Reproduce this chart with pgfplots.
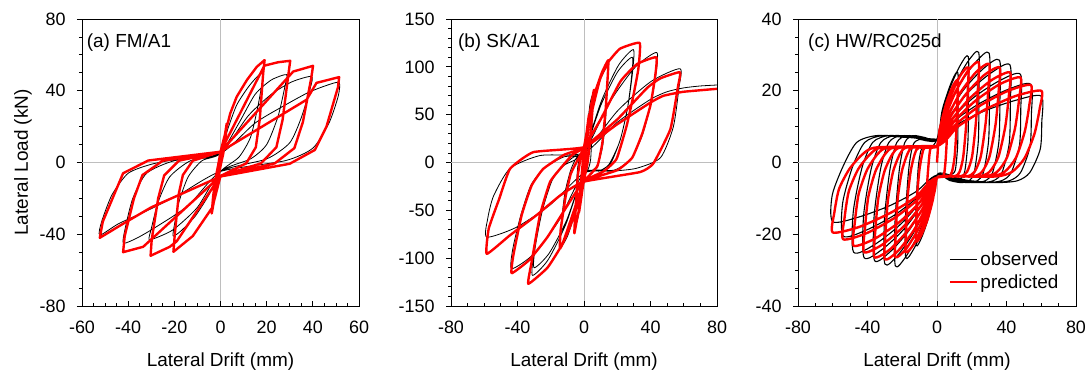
\documentclass[border=0pt]{standalone}
\usepackage{fontspec}
\setmainfont{Liberation Sans}
\usepackage{pgfplots}
\pgfplotsset{compat=1.18}
\definecolor{zeroline}{RGB}{190,190,190}
\definecolor{predred}{RGB}{255,0,0}
\pgfplotsset{
  obs/.style={black, line width=0.8bp, line join=round},
  pred/.style={predred, line width=2.4bp, line join=round},
  hyst/.style={
    scale only axis, height=287bp, anchor=south west,
    axis line style={line width=0.8bp},
    every tick/.style={black, line width=0.8bp},
    major tick length=5bp, minor tick length=3bp,
    xtick pos=left, ytick pos=left,
    xtick align=inside, ytick align=outside,
    tick label style={font=\fontsize{18}{20}\selectfont},
    /pgf/number format/assume math mode=true,
    xticklabel shift=11bp, yticklabel shift=8bp,
    xlabel={Lateral Drift (mm)},
    every axis x label/.style={at={(axis description cs:0.5,-0.195)}, anchor=center, font=\fontsize{19}{22}\selectfont},
    extra x ticks={0}, extra y ticks={0}, extra x tick labels={}, extra y tick labels={},
    extra tick style={grid=major, major grid style={zeroline, line width=0.9bp}},
  },
}
\begin{document}
\begin{tikzpicture}
\path[use as bounding box] (0,0) rectangle (1088bp,374bp);
% ---------------- (a)
\begin{axis}[hyst, at={(82bp,68bp)}, width=277bp,
  xmin=-60, xmax=60, ymin=-80, ymax=80,
  xtick={-60,-40,...,60}, minor x tick num=3,
  ytick={-80,-40,0,40,80}, minor y tick num=3,
  ylabel={Lateral Load (kN)},
  every axis y label/.style={at={(axis description cs:-0.213,0.5)}, rotate=90, anchor=center, font=\fontsize{19}{22}\selectfont}]
\addplot[obs, smooth, tension=0.4] coordinates {
(0,0) (1,8) (2.5,18) (2,10) (0.5,2) (-1,-8) (-3.5,-22) (-2.8,-14) (-1,-3) (0,4)
(3,18) (7,32) (12,42) (16,48) (18.5,50)
(18,44) (16,30) (13,14) (8,3) (0,-5)
(-5,-18) (-11,-30) (-17,-38) (-20.5,-41)
(-20,-35) (-18,-22) (-14,-8) (-8,1) (0,5)
(8,22) (15,38) (22,46) (28.6,49)
(28,43) (25,26) (20,10) (13,2) (0,-5)
(-10,-25) (-20,-37) (-26,-41) (-30.9,-43)
(-30,-37) (-27,-22) (-22,-8) (-13,1) (0,5)
(12,26) (22,38) (31,45) (39.4,48)
(39,42) (35,25) (30,11) (20,2) (0,-5)
(-14,-24) (-28,-36) (-36,-42) (-42,-45)
(-41.5,-38) (-38,-20) (-32,-6) (-20,1) (0,5)
(15,22) (28,32) (38,39) (46,43) (51.4,44.6)
(51,37) (47,22) (40,8) (28,1) (0,-5)
(-18,-18) (-32,-27) (-44,-34) (-52.3,-40.5)
(-51.5,-33) (-47,-18) (-40,-6) (-30,-1) (-18,2) (0,5)
};
\addplot[pred] coordinates {
(0,0) (1.2,10) (2.7,21.7) (2.2,14) (1.2,5) (0,-2) (-1.5,-12) (-3.8,-28.4) (-3.2,-19) (-2,-8) (-0.8,0)
(0,6) (2,16) (4.2,27.3) (7,36.6) (11.4,45.9) (15.7,53.3) (19.1,57.1)
(18.5,50) (17,24) (15.3,8.5) (11.1,-0.5) (0,-7.5)
(-3.5,-25) (-12,-41) (-20.4,-49.8)
(-19.8,-40) (-18,-17) (-16.3,-7) (-12,1) (0,6)
(19,54) (25,55.9) (30.2,56.7)
(29.5,50) (26.9,23.8) (24.2,8.5) (17.5,-0.5) (0,-7.5)
(-19,-44) (-22,-47) (-30.3,-52)
(-29.8,-43) (-27,-20) (-24.4,-7.2) (-18,1) (0,6)
(31.5,50.7) (40.1,53.9)
(39.3,47) (35.7,22.6) (32,8) (23.5,-0.5) (0,-7.5)
(-33.5,-47) (-42.2,-50)
(-41.5,-41) (-37.5,-20) (-33.8,-7) (-25,1) (0,6)
(37.3,35) (41.6,44.4) (51.4,47.6)
(50.9,42) (45.9,20) (40.9,7) (30,-0.7) (0,-7.8)
(-30,-25) (-42,-34) (-52.3,-42)
(-51,-33) (-42.2,-6) (-31.3,1.1) (0,6)
};
\node[anchor=west, inner sep=0pt, font=\fontsize{19}{22}\selectfont] at (rel axis cs:0.017,0.918) {(a) FM/A1};
\end{axis}
% ---------------- (b)
\begin{axis}[hyst, at={(451bp,68bp)}, width=266bp,
  xmin=-80, xmax=80, ymin=-150, ymax=150,
  xtick={-80,-40,0,40,80}, minor x tick num=3,
  ytick={-150,-100,...,150}, minor y tick num=4]
\addplot[obs, smooth, tension=0.4] coordinates {
(0,0) (2,35) (3.5,60) (5,70) (4.95,56) (4.65,26.6) (4,3.5) (2.75,-6) (1.5,-9) (0,-11) (-1.75,-38) (-3.5,-56.9) (-5,-65) (-4.95,-48.8) (-4.65,-29.3) (-3.8,-5.2) (-2.25,7.3) (0,10)
(4.9,55) (9.8,86.5) (14,100) (13.9,80) (13,45) (11,15) (8,-3) (4.2,-9) (0,-11) (-4.9,-49.5) (-9.8,-76.5) (-14,-88) (-13.8,-66) (-11.5,-32) (-8,-8) (-4.5,5) (0,10)
(10.4,64) (20.8,101.8) (29.7,118) (29.2,94.4) (26.5,60) (22,25) (16,-1) (8.9,-9) (0,-11) (-10.9,-64.5) (-21.7,-102) (-31,-118) (-30.2,-95) (-26,-55) (-20,-20) (-13,-4) (-6,6) (0,10)
(10.2,60) (20.3,95) (29,110) (28.5,88) (26,55) (21.5,22) (15,-2) (8.7,-9) (0,-11) (-10.5,-60.5) (-21,-95) (-30,-110) (-29.3,-88) (-25,-50) (-19,-18) (-12,-3) (0,10)
(15.3,62.5) (30.6,99.3) (43.7,115) (43.2,92) (40,60) (35,28) (28,3) (18,-8) (0,-11) (-15.2,-61) (-30.5,-96) (-43.5,-111) (-42.8,-90) (-38,-55) (-32,-24) (-24,-6) (-12,6) (0,10)
(20.2,54) (40.4,84.8) (57.7,98) (57.1,78) (53.7,37) (46,5) (31.7,-6) (17.3,-9) (0,-11) (-20.5,-44.5) (-41,-68) (-58.5,-78) (-57.9,-58.5) (-54.4,-35) (-44.5,-6.2) (-26.3,7.3) (0,10)
(20,42) (40,66) (50,74) (60,78) (70,80) (80,81)
};
\addplot[pred, smooth, tension=0.25] coordinates {
(0,0) (1.5,30) (3,50) (2.5,35) (1,5) (0,-15) (-1.5,-35) (-3,-52) (-2.5,-35) (-1,-5) (0,12)
(2.5,40) (4.5,62) (6,76) (5.3,60) (3.5,20) (2,-2) (0,-18) (-2.5,-45) (-4.5,-62) (-5.8,-74) (-5.4,-58) (-3.8,-15) (-2,5) (0,16)
(3,45) (7,75) (11,95) (14.6,107) (14.3,91) (13,55) (11,20) (8,-4) (0,-20)
(-4,-45) (-9,-70) (-14.4,-90) (-14,-70) (-11,-35) (-8,-12) (-4,2) (0,16)
(4.6,52) (9.6,87) (14.6,105) (21.7,119) (33.5,125) (32.7,98) (29.7,70) (25.7,38.7) (19.6,3.8) (12,-9) (0,-20)
(-6,-50) (-13,-85) (-22,-110) (-33.5,-126.8) (-31.5,-104) (-26.5,-55) (-20.5,-20.6) (-14.4,-6.6) (-7,8) (0,16)
(10,45) (22,85) (32,103) (43.5,110) (42.8,90) (40,60) (35,30) (29,5) (20,-8) (0,-20)
(-10,-45) (-22,-78) (-33,-102) (-43.5,-115.7) (-42.5,-97) (-37.5,-55) (-31.5,-24) (-24.5,-6.6) (-12,8) (0,16)
(20,45) (38,78) (46,88) (57.7,94.4) (56.6,80) (52,35) (41.7,-1) (33.7,-10) (0,-20)
(-14,-34) (-28.5,-55) (-44.5,-76) (-58.5,-95.5) (-57.3,-69) (-51,-38) (-44.5,-6.6) (-30.5,10.8) (0,16)
(20,40) (40,62.7) (47.7,69.7) (59.7,73.9) (80,77)
};
\node[anchor=west, inner sep=0pt, font=\fontsize{19}{22}\selectfont] at (rel axis cs:0.026,0.918) {(b) SK/A1};
\end{axis}
% ---------------- (c)
\begin{axis}[hyst, at={(798bp,68bp)}, width=278bp,
  xmin=-80, xmax=80, ymin=-40, ymax=40,
  xtick={-80,-40,0,40,80}, minor x tick num=3,
  ytick={-40,-20,0,20,40}, minor y tick num=3,
  legend style={at={(rel axis cs:0.957,0.04)}, anchor=south east, draw=none, fill=none,
    font=\fontsize{19}{22}\selectfont, row sep=2.5bp, nodes={inner sep=2.5bp}},
  legend cell align=left,
  legend image code/.code={\draw[#1] (0bp,0bp) -- (27bp,0bp);}]
\addplot[obs, line width=1.1bp, smooth, tension=0.45] coordinates {
(0,0) (2.4,13) (5.4,18.5) (9,23.2) (12,25) (12.1,15) (11.9,5) (10.7,-1.7) (9.2,-3.1) (6.8,-3.4) (3.6,-3) (0,-3.5) (-2.4,-10.3) (-5.4,-16.2) (-9,-21.1) (-12,-23) (-12.1,-12.7) (-10.8,-1.4) (-9.2,3.4) (-7,4.5) (-3.6,4.2) (0,6.5)
(3.6,14.5) (8.1,21.5) (13.5,27.2) (18,29.5) (18.1,17.7) (17.8,5.9) (16,-2.4) (13.9,-4.3) (10.3,-4.8) (5.4,-4.3) (0,-3.5) (-3.6,-11.6) (-8.1,-18.5) (-13.5,-24.2) (-18,-26.5) (-18.1,-14.6) (-16.2,-1.6) (-13.9,4.8) (-10.4,6.4) (-5.4,6) (0,6.5)
(4.8,15) (10.8,22.2) (18,28.3) (24,30.7) (24.1,18.4) (23.8,6.1) (21.4,-2.8) (18.5,-5.1) (13.7,-5.6) (7.2,-5) (0,-3.5) (-4.8,-12.4) (-10.8,-20) (-18,-26.3) (-24,-28.8) (-24.1,-15.8) (-21.6,-1.7) (-18.5,5.6) (-13.9,7.5) (-7.2,7) (0,6.5)
(6,14.9) (13.5,22.1) (22.5,28.1) (30,30.5) (30.2,18.3) (29.7,6.1) (26.7,-2.8) (23.1,-5.1) (17.1,-5.6) (9,-5) (0,-3.5) (-6,-12.2) (-13.5,-19.6) (-22.5,-25.8) (-30,-28.3) (-30.2,-15.6) (-27,-1.7) (-23.1,5.6) (-17.4,7.5) (-9,7) (0,6.5)
(7.2,14.2) (16.2,20.8) (27,26.3) (36,28.5) (36.2,17.1) (35.6,5.7) (32,-2.8) (27.7,-5.1) (20.5,-5.6) (10.8,-5) (0,-3.5) (-7.2,-11.8) (-16.2,-19) (-27,-24.9) (-36,-27.3) (-36.2,-15) (-32.4,-1.6) (-27.7,5.6) (-20.9,7.5) (-10.8,7) (0,6.5)
(8.4,13.7) (18.9,20) (31.5,25.1) (42,27.2) (42.2,16.3) (41.6,5.4) (37.4,-2.8) (32.3,-5.1) (23.9,-5.6) (12.6,-5) (0,-3.5) (-8.4,-11.5) (-18.9,-18.5) (-31.5,-24.2) (-42,-26.5) (-42.2,-14.6) (-37.8,-1.6) (-32.3,5.6) (-24.4,7.5) (-12.6,7) (0,6.5)
(9.6,12.8) (21.6,18.3) (36,22.8) (48,24.6) (48.2,14.8) (47.5,4.9) (42.7,-2.8) (37,-5.1) (27.4,-5.6) (14.4,-5) (0,-3.5) (-9.6,-11) (-21.6,-17.5) (-36,-22.9) (-48,-25) (-48.2,-13.8) (-43.2,-1.5) (-37,5.6) (-27.8,7.5) (-14.4,7) (0,6.5)
(10.8,11.9) (24.3,16.4) (40.5,20.3) (54,21.8) (54.3,13.1) (53.5,4.4) (48.1,-2.8) (41.6,-5.1) (30.8,-5.6) (16.2,-5) (0,-3.5) (-10.8,-9.5) (-24.3,-14.6) (-40.5,-18.8) (-54,-20.5) (-54.3,-11.3) (-48.6,-1.2) (-41.6,5.6) (-31.3,7.5) (-16.2,7) (0,6.5)
(12,10.7) (27,14.3) (45,17.3) (60,18.5) (60.3,11.1) (59.4,3.7) (53.4,-2.8) (46.2,-5.1) (34.2,-5.6) (18,-5) (0,-3.5) (-12,-8.1) (-27,-12) (-45,-15.2) (-60,-16.5) (-60.3,-9.1) (-54,-1) (-46.2,5.6) (-34.8,7.5) (-18,7) (0,6.5)
};
\addlegendentry{observed}
\addplot[pred, smooth, tension=0.4] coordinates {
(0,0) (1.2,8.2) (2.7,11.4) (4.5,14) (6,15) (5.9,11.3) (5.6,6) (5,0.9) (4.3,-2.6) (3.4,-3.9) (0,-4.2) (-1.2,-7.6) (-2.7,-10.6) (-4.5,-13) (-6,-14) (-5.9,-10.1) (-5.6,-5.3) (-5,-1.3) (-4.3,2.4) (-3.5,4.2) (0,4.6)
(2.4,11) (5.4,16.6) (9,21.2) (12,23) (11.8,17.3) (11.2,9.2) (10.1,1.4) (8.6,-2.6) (6.7,-3.9) (0,-4.2) (-2.4,-10.4) (-5.4,-15.8) (-9,-20.2) (-12,-22) (-11.8,-15.8) (-11.3,-8.4) (-10.1,-2) (-8.5,2.4) (-7,4.2) (0,4.6)
(3.6,12.3) (8.1,18.8) (13.5,24.3) (18,26.5) (17.7,19.9) (16.8,10.6) (15.1,1.6) (13,-2.6) (10.1,-3.9) (0,-4.2) (-3.6,-11.5) (-8.1,-17.7) (-13.5,-22.9) (-18,-25) (-17.7,-18) (-16.9,-9.5) (-15.1,-2.3) (-12.8,2.4) (-10.4,4.2) (0,4.6)
(4.8,12.8) (10.8,19.8) (18,25.7) (24,28) (23.6,21) (22.4,11.2) (20.2,1.7) (17.3,-2.6) (13.4,-3.9) (0,-4.2) (-4.8,-12) (-10.8,-18.6) (-18,-24.2) (-24,-26.4) (-23.6,-19) (-22.6,-10) (-20.2,-2.4) (-17,2.4) (-13.9,4.2) (0,4.6)
(6,12.6) (13.5,19.5) (22.5,25.2) (30,27.5) (29.6,20.6) (28,11) (25.2,1.7) (21.6,-2.6) (16.8,-3.9) (0,-4.2) (-6,-12.2) (-13.5,-19) (-22.5,-24.7) (-30,-27) (-29.6,-19.4) (-28.2,-10.3) (-25.2,-2.4) (-21.3,2.4) (-17.4,4.2) (0,4.6)
(7.2,12.3) (16.2,18.8) (27,24.3) (36,26.5) (35.5,19.9) (33.7,10.6) (30.2,1.6) (25.9,-2.6) (20.2,-3.9) (0,-4.2) (-7.2,-12) (-16.2,-18.6) (-27,-24.2) (-36,-26.4) (-35.5,-19) (-33.8,-10) (-30.2,-2.4) (-25.6,2.4) (-20.9,4.2) (0,4.6)
(8.4,11.8) (18.9,17.9) (31.5,23) (42,25.1) (41.4,18.8) (39.3,10) (35.3,1.5) (30.2,-2.6) (23.5,-3.9) (0,-4.2) (-8.4,-11.5) (-18.9,-17.7) (-31.5,-22.9) (-42,-25) (-41.4,-18) (-39.5,-9.5) (-35.3,-2.3) (-29.8,2.4) (-24.4,4.2) (0,4.6)
(9.6,11.3) (21.6,17) (36,21.8) (48,23.7) (47.3,17.8) (44.9,9.5) (40.3,1.4) (34.6,-2.6) (26.9,-3.9) (0,-4.2) (-9.6,-10.9) (-21.6,-16.6) (-36,-21.3) (-48,-23.2) (-47.3,-16.7) (-45.1,-8.8) (-40.3,-2.1) (-34.1,2.4) (-27.8,4.2) (0,4.6)
(10.8,10.6) (24.3,15.7) (40.5,19.9) (54,21.6) (53.2,16.2) (50.5,8.6) (45.4,1.3) (38.9,-2.6) (30.2,-3.9) (0,-4.2) (-10.8,-10.2) (-24.3,-15.4) (-40.5,-19.7) (-54,-21.4) (-53.2,-15.4) (-50.8,-8.1) (-45.4,-1.9) (-38.3,2.4) (-31.3,4.2) (0,4.6)
(12,10) (27,14.6) (45,18.5) (60,20) (59.1,15) (56.1,8) (50.4,1.2) (43.2,-2.6) (33.6,-3.9) (0,-4.2) (-12,-9.6) (-27,-14.1) (-45,-18) (-60,-19.5) (-59.1,-14) (-56.4,-7.4) (-50.4,-1.8) (-42.6,2.4) (-34.8,4.2) (0,4.6)
};
\addlegendentry{predicted}
\node[anchor=west, inner sep=0pt, font=\fontsize{19}{22}\selectfont] at (rel axis cs:0.036,0.918) {(c) HW/RC025d};
\end{axis}
\end{tikzpicture}
\end{document}
